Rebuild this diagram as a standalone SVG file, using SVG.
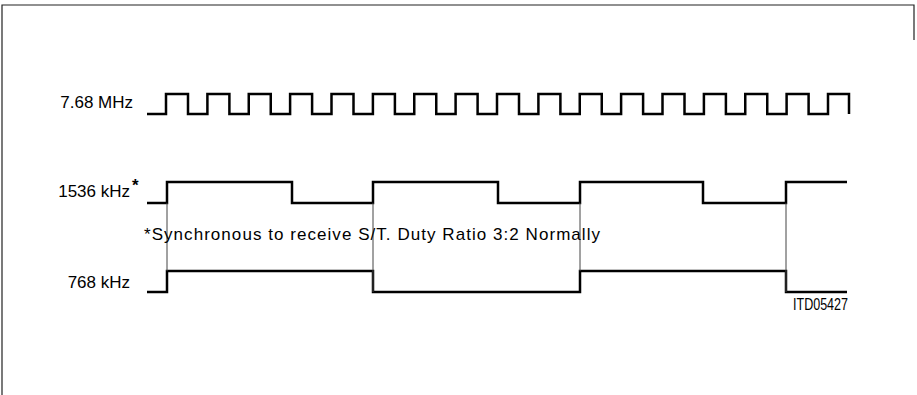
<svg xmlns="http://www.w3.org/2000/svg" width="917" height="395" viewBox="0 0 917 395">
<style>
.lbl{font-family:"Liberation Sans",Arial,sans-serif;font-size:17px;fill:#000}
.wave{fill:none;stroke:#000;stroke-width:2.5;stroke-linejoin:miter;stroke-linecap:butt}
.guide{fill:none;stroke:#444;stroke-width:1}
.frame{fill:none;stroke:#222;stroke-width:1.2}
</style>
<rect width="917" height="395" fill="#fff"/>
<g id="frame">
<path class="frame" d="M2,395 V5 H914 V40"/>
</g>
<g id="clk768MHz">
<text class="lbl" x="133" y="108" text-anchor="end">7.68 MHz</text>
<path class="wave" d="M147,114 H166 V94 H188 V114 H207.4 V94 H229.4 V114 H248.75 V94 H270.75 V114 H290.1 V94 H312.1 V114 H331.5 V94 H353.5 V114 H372.9 V94 H394.9 V114 H414.25 V94 H436.25 V114 H455.6 V94 H477.6 V114 H497 V94 H519 V114 H538.4 V94 H560.4 V114 H579.75 V94 H601.75 V114 H621.1 V94 H643.1 V114 H662.5 V94 H684.5 V114 H703.9 V94 H725.9 V114 H745.25 V94 H767.25 V114 H786.6 V94 H808.6 V114 H828 V94 H849 V114"/>
</g>
<g id="sig1536kHz">
<text class="lbl" x="130" y="197" text-anchor="end">1536 kHz</text>
<text class="lbl" x="132" y="191" font-size="14" font-weight="bold">*</text>
<path class="wave" d="M147,203 H167 V182 H292 V203 H373 V182 H498 V203 H580 V182 H703 V203 H786 V182 H847"/>
</g>
<g id="sig768kHz">
<text class="lbl" x="130" y="288" text-anchor="end">768 kHz</text>
<path class="wave" d="M147,292 H167 V271 H373 V292 H580 V271 H786 V292 H847"/>
</g>
<g id="connectors">
<path class="guide" d="M167,203 V271 M373,203 V292 M580,203 V271"/>
<path class="guide" stroke-width="1.6" d="M786,203 V292"/>
</g>
<g id="note">
<text class="lbl" x="144" y="240" textLength="456" lengthAdjust="spacing">*Synchronous to receive S/T. Duty Ratio 3:2 Normally</text>
</g>
<g id="ref">
<text class="lbl" x="793" y="310" font-size="12" textLength="55" lengthAdjust="spacingAndGlyphs">ITD05427</text>
</g>
</svg>
